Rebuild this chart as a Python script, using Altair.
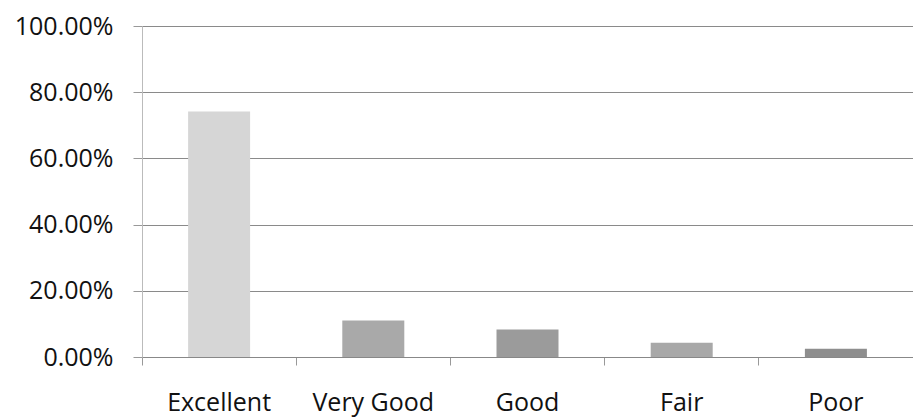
import altair as alt
import pandas as pd

categories = ["Excellent", "Very Good", "Good", "Fair", "Poor"]
shares = [0.742, 0.110, 0.083, 0.043, 0.025]
bar_colors = ["#d6d6d6", "#a9a9a9", "#9b9b9b", "#a8a8a8", "#8e8e8e"]

df = pd.DataFrame({"category": categories, "share": shares})

chart = alt.Chart(df).mark_bar(size=62).encode(
    x=alt.X("category:N", sort=categories, title=None,
            scale=alt.Scale(paddingInner=0, paddingOuter=0),
            axis=alt.Axis(labelAngle=0, labelFont="Open Sans", labelFontSize=25,
                          labelColor="#111", labelPadding=25, tickSize=8,
                          tickColor="#999", domainColor="#888", bandPosition=0,
                          ticks=True, grid=False)),
    y=alt.Y("share:Q", title=None,
            scale=alt.Scale(domain=[0, 1], nice=False),
            axis=alt.Axis(format=".2%", values=[0, 0.2, 0.4, 0.6, 0.8, 1.0],
                          labelFont="Open Sans", labelFontSize=25, labelColor="#111",
                          labelPadding=20, tickSize=9, tickColor="#999", ticks=True,
                          domainColor="#bbb", gridColor="#8a8a8a", gridWidth=1)),
    color=alt.Color("category:N", sort=categories, legend=None,
                    scale=alt.Scale(domain=categories, range=bar_colors)),
).properties(
    width=771, height=331,
    padding={"left": 134, "top": 18, "right": 0, "bottom": 60},
    autosize=alt.AutoSizeParams(type="none"),
).configure_view(stroke=None).configure(background="white")

chart.save("out.html", embed_options={"renderer": "svg", "actions": False})
